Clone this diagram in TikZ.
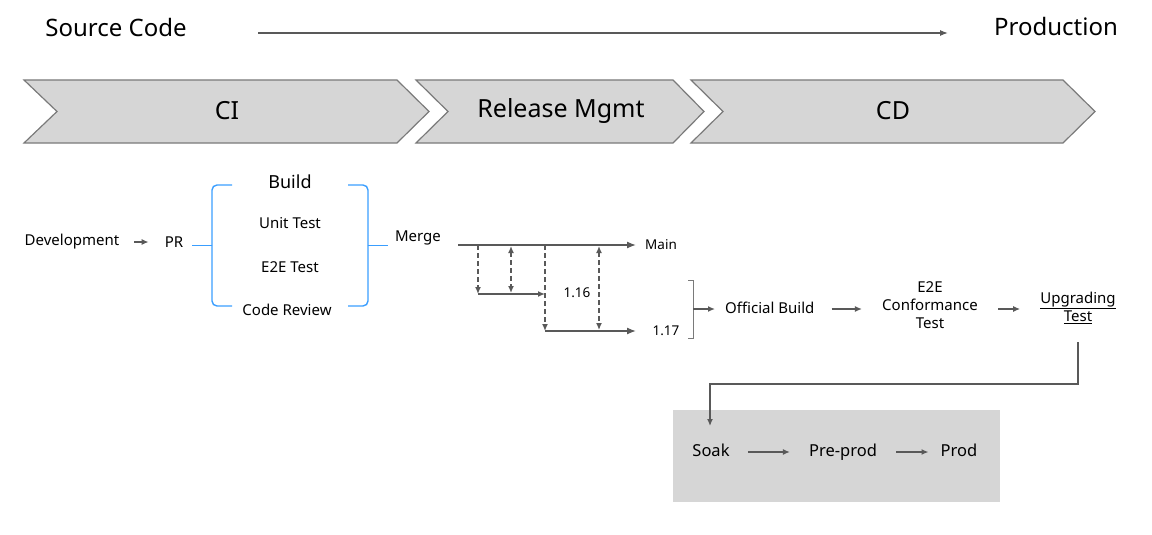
\documentclass[tikz,border=0pt]{standalone}
\usepackage{fontspec}
\setmainfont{Noto Sans}
\usetikzlibrary{arrows.meta,positioning}

\definecolor{chevgray}{HTML}{D6D6D6}
\definecolor{edgegray}{HTML}{7A7A7A}
\definecolor{linegray}{HTML}{595959}
\definecolor{braceblue}{HTML}{3A9EFF}

\tikzset{
  chev/.style={draw=edgegray, fill=chevgray, line width=1.2pt},
  big/.style={font=\fontsize{24}{28}\selectfont, inner sep=0pt},
  stage/.style={font=\fontsize{25}{30}\selectfont, inner sep=0pt},
  lbl/.style={font=\fontsize{15}{18}\selectfont, inner sep=0pt, align=center},
  env/.style={lbl, font=\fontsize{16.5}{19}\selectfont, text height=12pt, text depth=4pt},
  flow/.style={draw=linegray, line width=1.3pt, -{Latex[length=9pt,width=7pt]}},
  tiny/.style={draw=linegray, line width=1.3pt, -{Latex[length=7pt,width=6pt]}},
  dashln/.style={draw=linegray, line width=1.3pt, dash pattern=on 5pt off 3pt},
  brace/.style={draw=braceblue, line width=1.4pt, rounded corners=5pt}
}

\begin{document}
\begin{tikzpicture}[x=1pt,y=-1pt]
  \useasboundingbox (0,0) rectangle (1152,535);

  % top line
  \node[big] (src) at (116,28) {Source Code};
  \node[big] (prd) at (1056,27) {Production};
  \coordinate (tl0) at (258,33);
  \coordinate (tl1) at (948,33);
  \draw[draw=linegray, line width=1.2pt, -{Latex[length=8pt,width=6pt]}] (tl0) -- (tl1);

  % stages
  \draw[chev] (24,80) -- (397,80) -- (429,111.5) -- (397,143) -- (24,143) -- (57,111.5) -- cycle;
  \draw[chev] (416,80) -- (673,80) -- (704,111.5) -- (673,143) -- (416,143) -- (448,111.5) -- cycle;
  \draw[chev] (691,80) -- (1063,80) -- (1095,111.5) -- (1063,143) -- (691,143) -- (723,111.5) -- cycle;
  \node[stage] (ci) at (227,111) {CI};
  \node[stage] (rel) at (561,111) {Release Mgmt};
  \node[stage] (cd) at (893,111) {CD};

  % CI
  \node[lbl] (dev) at (72,242) {Development};
  \node[lbl] (pr) at (174,242) {PR};
  \node[lbl, font=\fontsize{18}{21}\selectfont] (build) at (290,182) {Build};
  \node[lbl] (unit) at (290,223) {Unit Test};
  \node[lbl] (e2e) at (290,267) {E2E Test};
  \node[lbl] (review) at (287,310) {Code Review};
  \node[lbl] (merge) at (418,238) {Merge};
  \draw[tiny, shorten <=15pt, shorten >=16pt] (dev.east) -- (dev.east -| pr.west);

  \draw[brace] (232,185) -- (212,185) -- (212,245);
  \draw[brace] (232,306) -- (212,306) -- (212,245);
  \draw[braceblue, line width=1.4pt] (192,245.5) -- (212,245.5);
  \draw[brace] (348,185) -- (368,185) -- (368,245);
  \draw[brace] (348,306) -- (368,306) -- (368,245);
  \draw[braceblue, line width=1.4pt] (368,245.5) -- (388,245.5);

  % release branches
  \node[lbl, font=\fontsize{13.5}{15}\selectfont, anchor=west] (main) at (645,245) {Main};
  \node[lbl, font=\fontsize{13.5}{15}\selectfont] (v116) at (577,293) {1.16};
  \node[lbl, font=\fontsize{13.5}{15}\selectfont] (v117) at (666,331) {1.17};
  \coordinate (m0) at (458,245);
  \coordinate (m1) at (636,245);
  \coordinate (a0) at (478,294);
  \coordinate (a1) at (545,294);
  \coordinate (b0) at (545,331);
  \coordinate (b1) at (636,331);
  \draw[flow] (m0) -- (m1);
  \draw[tiny] (a0) -- (a1);
  \draw[flow] (b0) -- (b1);
  \draw[dashln, -{Latex[length=7pt,width=6pt]}] (478,245) -- (a0);
  \draw[dashln, {Latex[length=7pt,width=6pt]}-{Latex[length=7pt,width=6pt]}] (511,246) -- (511,293);
  \draw[dashln, -{Latex[length=7pt,width=6pt]}] (545,245) -- (b0);
  \draw[dashln, {Latex[length=7pt,width=6pt]}-{Latex[length=7pt,width=6pt]}] (599,246) -- (599,330);

  % CD
  \draw[draw=edgegray, line width=1pt] (688,280) -- (693,280) -- (693,338) -- (688,338);
  \node[lbl, anchor=west] (obuild) at (725,308) {Official Build};
  \node[lbl] (conf) at (930,305) {E2E\\Conformance\\Test};
  \node[lbl] (upg) at (1078,308) {\underline{Upgrading}\\\underline{Test}};
  \coordinate (br) at (693,309);
  \draw[tiny] (br) -- ([xshift=-10pt]obuild.west |- br);
  \draw[tiny, shorten <=17pt, shorten >=20pt] (obuild.east |- br) -- (conf.west |- br);
  \draw[tiny, shorten <=20pt, shorten >=20pt] (conf.east |- br) -- (upg.west |- br);

  % deploy
  \fill[chevgray] (673,410) rectangle (1000,502);
  \node[env] (soak) at (711,452) {Soak};
  \node[env] (pre) at (843,452) {Pre-prod};
  \node[env] (prod) at (959,452) {Prod};
  \coordinate (up0) at (1078,342);
  \coordinate (sk) at (710,426);
  \draw[tiny] (up0) -- (1078,384) -| (sk);
  \draw[tiny, shorten <=18pt, shorten >=19pt] (soak.east) -- (pre.west);
  \draw[tiny, shorten <=19pt, shorten >=12pt] (pre.east) -- (prod.west);
\end{tikzpicture}
\end{document}
